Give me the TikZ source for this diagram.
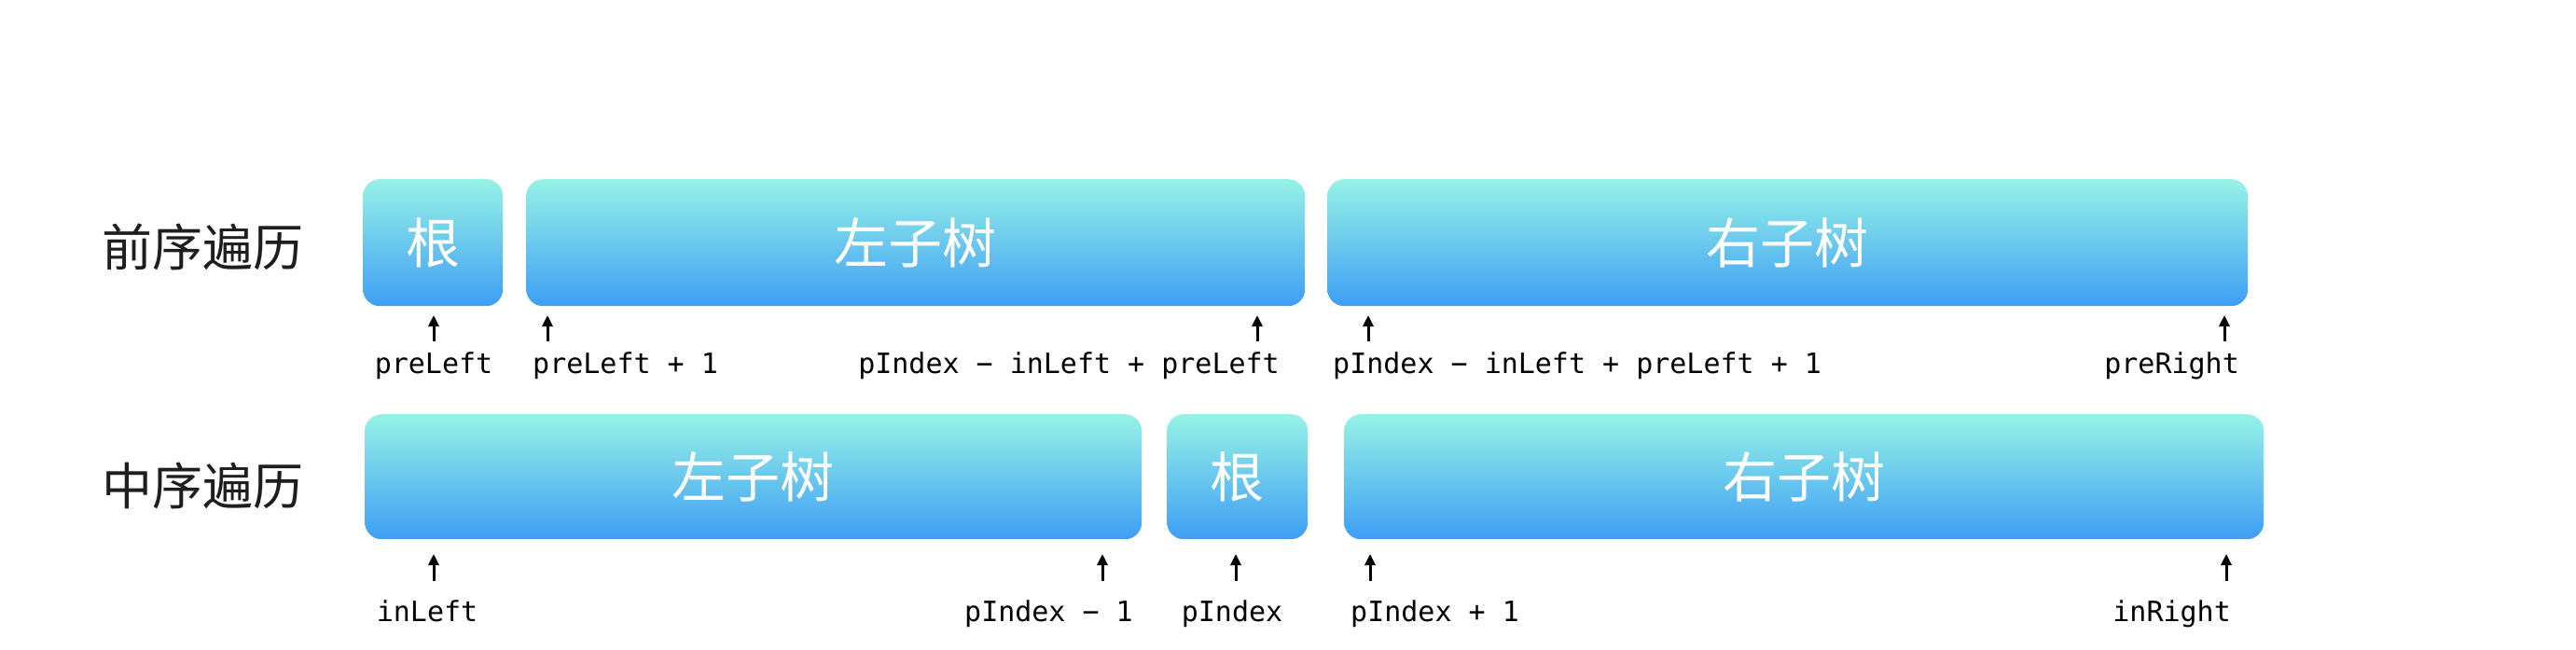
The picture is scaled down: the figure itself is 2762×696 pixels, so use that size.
\documentclass[tikz,border=0pt]{standalone}
\usepackage{fontspec}
\setmonofont{DejaVu Sans Mono}
\newfontfamily\cjk{Noto Sans CJK SC}
\usetikzlibrary{arrows.meta}
\definecolor{boxtop}{RGB}{150,242,230}
\definecolor{boxbot}{RGB}{62,158,245}
\definecolor{labelgray}{RGB}{30,30,30}
\tikzset{
  seg/.style={rounded corners=18pt, top color=boxtop, bottom color=boxbot, draw=none,
    inner sep=0pt, anchor=north west, text=white, font=\cjk\fontsize{58}{60}\selectfont},
  rowlabel/.style={font=\cjk\fontsize{54}{58}\selectfont, text=labelgray, anchor=west, inner sep=0pt},
  idx/.style={font=\ttfamily\fontsize{30}{32}\selectfont, inner sep=0pt, text=black},
  ptr/.style={-{Triangle[length=12pt,width=11pt]}, line width=3pt, black}
}
\begin{document}
\begin{tikzpicture}[x=1pt,y=-1pt]
\useasboundingbox[fill=white] (0,0) rectangle (2762,696);

% row labels
\node[rowlabel] (pre) at (109,265) {前序遍历};
\node[rowlabel] (ino) at (109,521) {中序遍历};

% preorder boxes
\node[seg, minimum width=150pt, minimum height=136pt] (proot) at (389,192) {根};
\node[seg, minimum width=835pt, minimum height=136pt] (pleft) at (564,192) {左子树};
\node[seg, minimum width=987pt, minimum height=136pt] (pright) at (1423,192) {右子树};

% inorder boxes
\node[seg, minimum width=833pt, minimum height=134pt] (ileft) at (391,444) {左子树};
\node[seg, minimum width=151pt, minimum height=134pt] (iroot) at (1251,444) {根};
\node[seg, minimum width=986pt, minimum height=134pt] (iright) at (1441,444) {右子树};

% preorder index labels
\node[idx, anchor=base] (l1) at (465,400) {preLeft};
\node[idx, anchor=base west] (l2) at (571,400) {preLeft + 1};
\node[idx, anchor=base east] (l3) at (1372,400) {pIndex − inLeft + preLeft};
\node[idx, anchor=base west] (l4) at (1429,400) {pIndex − inLeft + preLeft + 1};
\node[idx, anchor=base east] (l5) at (2401,400) {preRight};

% inorder index labels
\node[idx, anchor=base] (m1) at (458,666) {inLeft};
\node[idx, anchor=base east] (m2) at (1215,666) {pIndex − 1};
\node[idx, anchor=base] (m3) at (1321,666) {pIndex};
\node[idx, anchor=base west] (m4) at (1448,666) {pIndex + 1};
\node[idx, anchor=base east] (m5) at (2392,666) {inRight};

% arrow end points
\foreach \n/\x in {a1/465, a2/587, a3/1348, a4/1467, a5/2385} {
  \coordinate (\n s) at (\x,366);
  \coordinate (\n e) at (\x,338);
}
\foreach \n/\x in {b1/465, b2/1182, b3/1325, b4/1469, b5/2387} {
  \coordinate (\n s) at (\x,623);
  \coordinate (\n e) at (\x,594);
}
\foreach \n in {a1,a2,a3,a4,a5,b1,b2,b3,b4,b5} {
  \draw[ptr] (\n s) -- (\n e);
}
\end{tikzpicture}
\end{document}
